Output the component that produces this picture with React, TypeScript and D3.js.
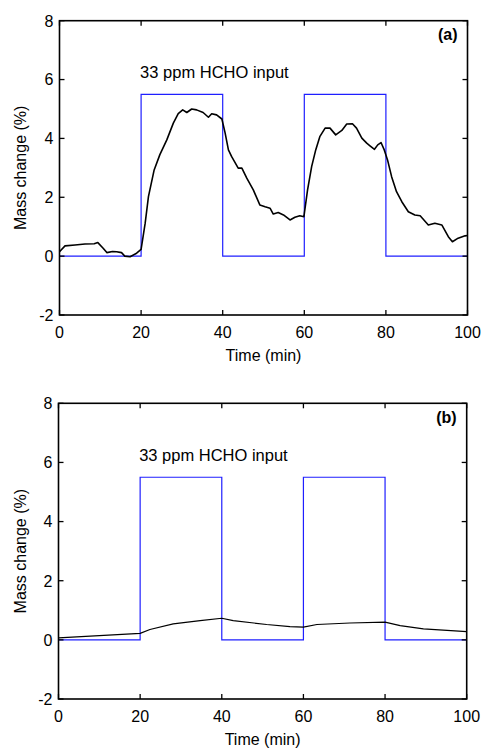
import React from "react";
import * as d3 from "d3";

const xTicks = [0, 20, 40, 60, 80, 100];
const yTicks = [-2, 0, 2, 4, 6, 8];

// HCHO input square wave (time, value)
const inputTime = [0, 20, 20, 40, 40, 60, 60, 80, 80, 100];
const inputVal = [0, 0, 5.5, 5.5, 0, 0, 5.5, 5.5, 0, 0];

// Panel (a) mass change
const aTime = [0, 1.35, 3.8, 6.25, 8.5, 9.4, 10.7, 11.6, 13, 14, 15.2, 16, 17.3, 18.9, 20, 21, 21.8, 23.2, 24.6, 26.3, 27.9, 29.1, 30.2, 31.2, 32.4, 33.6, 35.2, 36.5, 37.3, 38.5, 39.8, 40.6, 41.4, 42.2, 43.8, 44.7, 45.9, 47.5, 49.1, 50.4, 51.6, 52.4, 53.6, 54.9, 56.5, 57.7, 58.9, 59.9, 60.8, 61.8, 62.8, 63.8, 65.1, 66.3, 67.7, 69.2, 70.4, 71.8, 72.8, 74.1, 75.3, 76.1, 77.2, 78, 78.8, 79.6, 80.4, 81.4, 82.6, 83.9, 85.5, 87.1, 88.4, 90.4, 92, 93.7, 95.3, 96.3, 97.7, 99.4, 100];
const aVal = [0.15, 0.35, 0.38, 0.41, 0.42, 0.46, 0.27, 0.12, 0.16, 0.15, 0.12, 0.0, -0.02, 0.1, 0.23, 1.12, 2.02, 2.93, 3.45, 3.95, 4.52, 4.84, 4.97, 4.88, 5.0, 4.97, 4.88, 4.72, 4.84, 4.8, 4.66, 4.18, 3.61, 3.38, 2.99, 2.99, 2.65, 2.25, 1.74, 1.68, 1.63, 1.43, 1.48, 1.4, 1.23, 1.32, 1.37, 1.34, 2.25, 3.04, 3.61, 4.06, 4.35, 4.35, 4.12, 4.27, 4.49, 4.5, 4.35, 4.01, 3.84, 3.75, 3.63, 3.78, 3.86, 3.61, 3.27, 2.7, 2.19, 1.85, 1.51, 1.4, 1.37, 1.06, 1.12, 1.06, 0.66, 0.49, 0.61, 0.69, 0.7];

// Panel (b) mass change
const bTime = [0, 20, 22.4, 28.1, 34.7, 40, 42.8, 51, 56.7, 60, 63.3, 71.4, 80, 83.7, 89.4, 100];
const bVal = [0.07, 0.22, 0.35, 0.54, 0.65, 0.73, 0.65, 0.52, 0.45, 0.43, 0.52, 0.57, 0.6, 0.48, 0.37, 0.28];

const FONT = "Arial, 'Liberation Sans', sans-serif";

type PanelProps = {
  left: number; right: number; top: number; bottom: number;
  time: number[]; vals: number[]; label: string; lineWidth: number;
};

function Panel({ left, right, top, bottom, time, vals, label, lineWidth }: PanelProps) {
  const x = d3.scaleLinear().domain([0, 100]).range([left, right]);
  const y = d3.scaleLinear().domain([-2, 8]).range([bottom, top]);
  const line = d3.line<number>().x((_, i) => x(time[i])).y((d) => y(d));
  const inLine = d3.line<number>().x((_, i) => x(inputTime[i])).y((d) => y(d));
  const tl = 5;
  return (
    <g>
      <path d={inLine(inputVal) || ""} fill="none" stroke="#1f1fff" strokeWidth={1.2} />
      <path d={line(vals) || ""} fill="none" stroke="#000" strokeWidth={lineWidth} strokeLinejoin="round" />
      <rect x={left} y={top} width={right - left} height={bottom - top} fill="none" stroke="#000" strokeWidth={1.6} />
      {xTicks.map((t) => (
        <g key={"x" + t}>
          <line x1={x(t)} x2={x(t)} y1={bottom} y2={bottom - tl} stroke="#000" strokeWidth={1.3} />
          <line x1={x(t)} x2={x(t)} y1={top} y2={top + tl} stroke="#000" strokeWidth={1.3} />
          <text x={x(t)} y={bottom + 22.5} textAnchor="middle" fontSize={16} fontFamily={FONT}>{t}</text>
        </g>
      ))}
      {yTicks.map((t) => (
        <g key={"y" + t}>
          <line x1={left} x2={left + tl} y1={y(t)} y2={y(t)} stroke="#000" strokeWidth={1.3} />
          <line x1={right} x2={right - tl} y1={y(t)} y2={y(t)} stroke="#000" strokeWidth={1.3} />
          <text x={left - 6} y={y(t) + 5.8} textAnchor="end" fontSize={16} fontFamily={FONT}>{t}</text>
        </g>
      ))}
      <text x={(left + right) / 2} y={bottom + 46} textAnchor="middle" fontSize={16} fontFamily={FONT}>Time (min)</text>
      <text transform={`translate(26,${(top + bottom) / 2}) rotate(-90)`} textAnchor="middle" fontSize={16} fontFamily={FONT}>Mass change (%)</text>
      <text x={x(20) - 1} y={y(6) - 1.5} fontSize={16.5} fontFamily={FONT}>33 ppm HCHO input</text>
      <text x={right - 10} y={top + 19.5} textAnchor="end" fontSize={16} fontWeight="bold" fontFamily={FONT}>{label}</text>
    </g>
  );
}

export default function App() {
  return (
    <svg width={481} height={749} style={{ position: "absolute", left: 0, top: 0, background: "#fff" }}>
      <rect width={481} height={749} fill="#fff" />
      <Panel left={59.5} right={467.5} top={20.7} bottom={315} time={aTime} vals={aVal} label="(a)" lineWidth={1.6} />
      <Panel left={58.5} right={466.7} top={403.3} bottom={699} time={bTime} vals={bVal} label="(b)" lineWidth={1.2} />
    </svg>
  );
}
